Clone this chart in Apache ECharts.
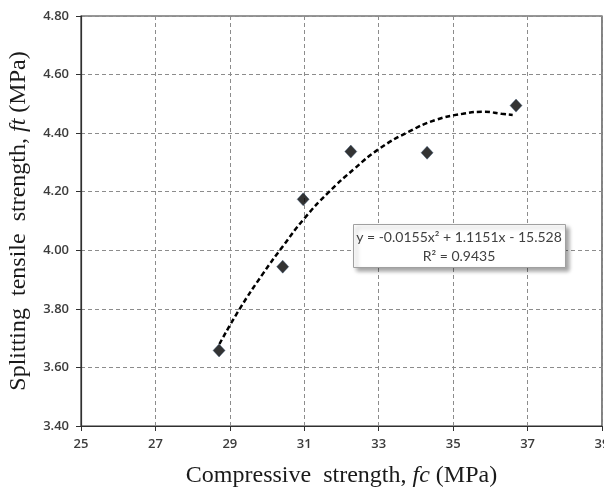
<!DOCTYPE html>
<html>
<head>
<meta charset="utf-8">
<script src="https://cdn.jsdelivr.net/npm/echarts@6/dist/echarts.min.js"></script>
<style>
html, body { margin: 0; padding: 0; background: #fff; }
#chart { width: 604px; height: 491px; }
</style>
</head>
<body>
<div id="chart"></div>
<script>
// measured points (fc, ft)
var fcValues = [28.71, 30.42, 30.97, 32.25, 34.30, 36.69];
var ftValues = [3.658, 3.944, 4.174, 4.337, 4.333, 4.494];

// trend line as drawn in the picture
var trendX = [28.72, 29.25, 29.90, 30.42, 31.01, 31.63, 32.36, 33.03, 33.81, 34.53, 35.26, 35.85, 36.30, 36.60];
var trendY = [3.680, 3.797, 3.922, 4.013, 4.110, 4.195, 4.280, 4.348, 4.405, 4.445, 4.466, 4.473, 4.466, 4.462];

var xTicks = [25, 27, 29, 31, 33, 35, 37, 39];
var yTicks = [3.40, 3.60, 3.80, 4.00, 4.20, 4.40, 4.60, 4.80];

var equationText = 'y = -0.0155x\u00b2 + 1.1151x - 15.528';
var r2Text = 'R\u00b2 = 0.9435';

var myChart = echarts.init(document.getElementById('chart'));

var tickFont = {
    color: '#3c3c3c',
    fontFamily: 'Open Sans',
    fontSize: 13,
    fontWeight: 600
};

myChart.setOption({
    animation: false,
    grid: {
        left: 81,
        right: 2,
        top: 16,
        bottom: 65,
        outerBoundsMode: 'none',
        containLabel: false,
        show: true,
        borderColor: '#303030',
        borderWidth: 1.2
    },
    xAxis: {
        type: 'value',
        min: xTicks[0],
        max: xTicks[xTicks.length - 1],
        interval: 2,
        axisLine: { show: true, lineStyle: { color: '#303030', width: 1.2 } },
        axisTick: { show: true, length: 5, lineStyle: { color: '#303030' } },
        axisLabel: Object.assign({ margin: 12 }, tickFont),
        splitLine: { show: true, lineStyle: { color: '#8c8c8c', type: [4, 3], width: 1 } },
        name: '{n|Compressive  strength, }{i|fc}{n| (MPa)}',
        nameLocation: 'middle',
        nameGap: 38,
        nameTextStyle: {
            rich: {
                n: { fontFamily: 'Liberation Serif', fontSize: 24, color: '#1a1a1a' },
                i: { fontFamily: 'Liberation Serif', fontSize: 24, fontStyle: 'italic', color: '#1a1a1a' }
            }
        }
    },
    yAxis: {
        type: 'value',
        min: yTicks[0],
        max: yTicks[yTicks.length - 1],
        interval: 0.2,
        axisLine: { show: true, lineStyle: { color: '#303030', width: 1.2 } },
        axisTick: { show: true, length: 5, lineStyle: { color: '#303030' } },
        axisLabel: Object.assign({
            margin: 12,
            formatter: function (v) { return v.toFixed(2); }
        }, tickFont),
        splitLine: { show: true, lineStyle: { color: '#8c8c8c', type: [4, 3], width: 1 } },
        name: '{n|Splitting  tensile  strength, }{i|ft}{n| (MPa)}',
        nameLocation: 'middle',
        nameGap: 50,
        nameTextStyle: {
            rich: {
                n: { fontFamily: 'Liberation Serif', fontSize: 24, color: '#1a1a1a' },
                i: { fontFamily: 'Liberation Serif', fontSize: 24, fontStyle: 'italic', color: '#1a1a1a' }
            }
        }
    },
    series: [
        {
            name: 'trend',
            type: 'line',
            smooth: true,
            showSymbol: false,
            data: trendX.map(function (x, i) { return [x, trendY[i]]; }),
            lineStyle: { color: '#000', width: 2.5, type: [5, 3] },
            z: 2
        },
        {
            name: 'test data',
            type: 'scatter',
            symbol: 'diamond',
            symbolSize: [12, 13],
            data: fcValues.map(function (x, i) { return [x, ftValues[i]]; }),
            itemStyle: { color: '#000', borderColor: '#2a4a70', borderWidth: 0.5 },
            z: 3
        }
    ],
    graphic: [
        {
            type: 'rect',
            left: 353,
            top: 224,
            shape: { width: 212, height: 43 },
            style: {
                fill: '#fff',
                stroke: '#a0a0a0',
                lineWidth: 1,
                shadowColor: 'rgba(0,0,0,0.35)',
                shadowBlur: 4,
                shadowOffsetX: 3,
                shadowOffsetY: 3
            },
            z: 10
        },
        {
            type: 'text',
            x: 459,
            y: 237,
            style: {
                text: equationText,
                fill: '#404040',
                font: '14px Lato',
                align: 'center',
                verticalAlign: 'middle'
            },
            z: 11
        },
        {
            type: 'text',
            x: 459,
            y: 256,
            style: {
                text: r2Text,
                fill: '#404040',
                font: '14px Lato',
                align: 'center',
                verticalAlign: 'middle'
            },
            z: 11
        }
    ]
});
</script>
</body>
</html>
